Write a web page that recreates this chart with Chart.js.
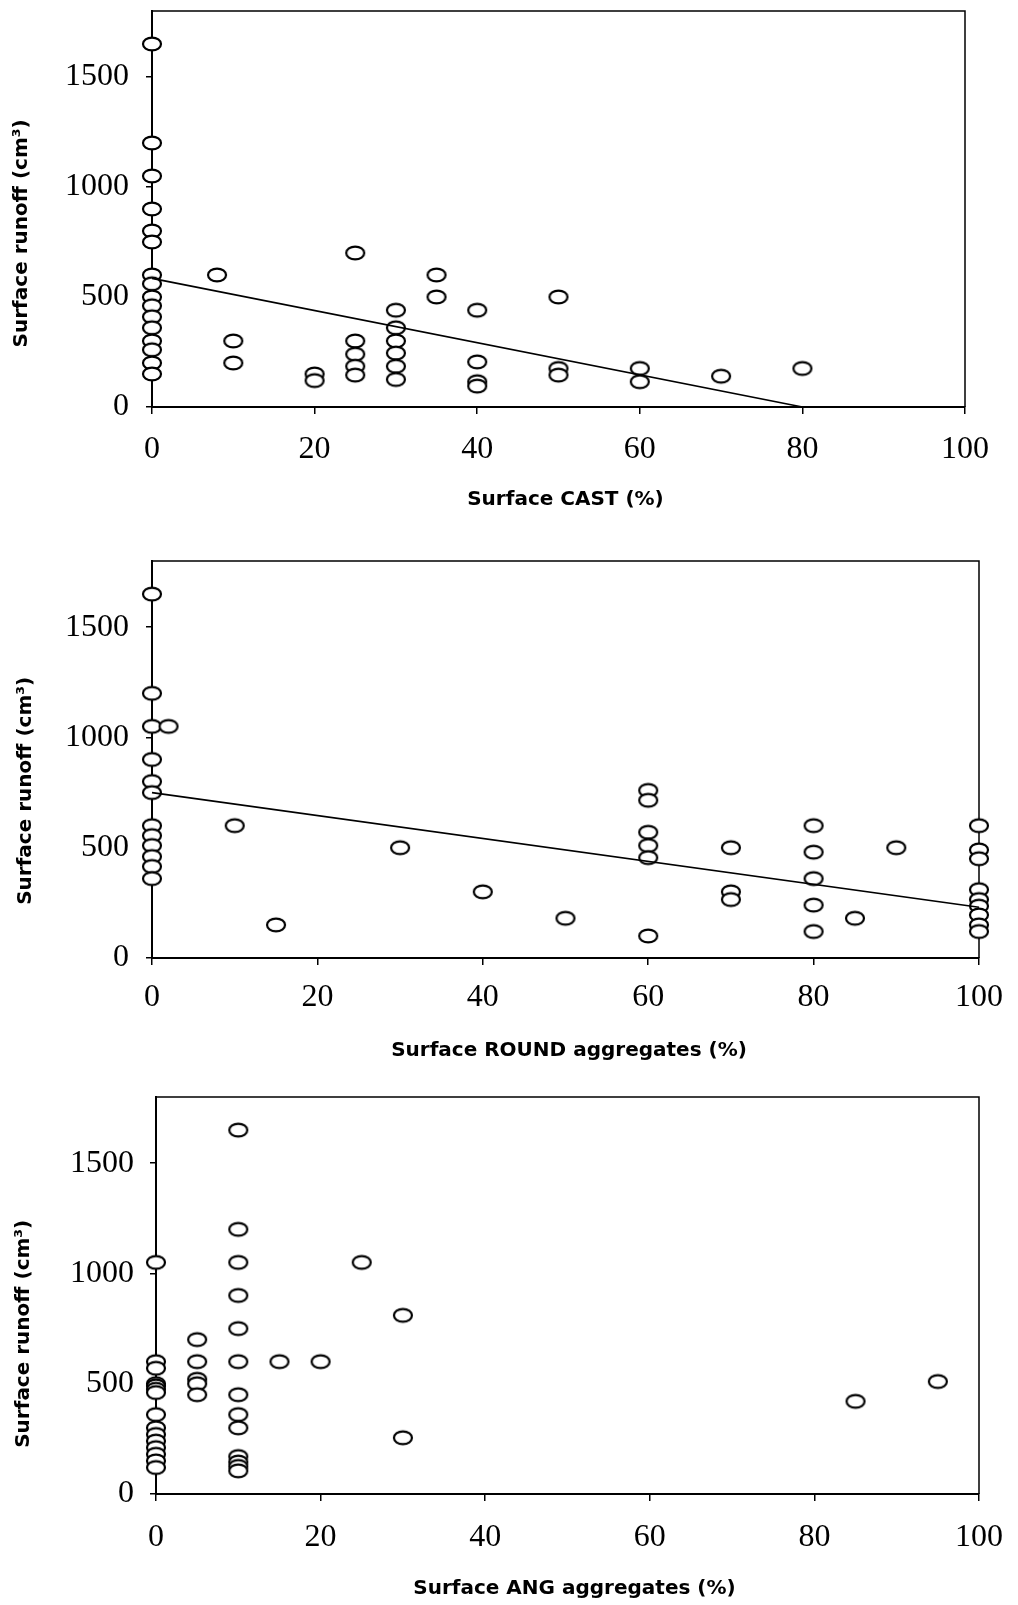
<!DOCTYPE html>
<html>
<head>
<meta charset="utf-8">
<script src="https://cdn.jsdelivr.net/npm/chart.js@4.4.1/dist/chart.umd.min.js"></script>
<style>
  body { margin: 0; background: #fff; }
  canvas { position: absolute; left: 0; }
</style>
</head>
<body>
<canvas id="cast" width="1018" height="525" style="top:0px"></canvas>
<canvas id="round" width="1018" height="535" style="top:530px"></canvas>
<canvas id="ang" width="1018" height="535" style="top:1070px"></canvas>
<script>
// tick values shared by all three panels
const xTicks = [0, 20, 40, 60, 80, 100];
const yTicks = [0, 500, 1000, 1500];

// Surface CAST (%) vs runoff
const castX = [0,0,0,0,0,0,0,0,0,0,0,0,0,0,0,0, 8, 10,10, 20,20, 25,25,25,25,25,
  30,30,30,30,30,30, 35,35, 40,40,40,40, 50,50,50, 60,60, 70, 80];
const castY = [1650,1200,1050,900,800,750,600,560,500,460,410,360,300,260,200,150, 600, 300,200, 150,120,
  700,300,240,185,145, 440,360,300,245,185,125, 600,500, 440,205,115,95, 500,175,145, 175,115, 140, 175];
const castTrendX = [0, 80];
const castTrendY = [585, 0];

// Surface ROUND aggregates (%) vs runoff
const roundX = [0,0,0,0,0,0,0,0,0,0,0,0, 2, 10, 15, 30, 40, 50, 60,60,60,60,60,60, 70,70,70,
  80,80,80,80,80, 85, 90, 100,100,100,100,100,100,100,100,100];
const roundY = [1650,1200,1050,900,800,750,600,555,510,460,415,360, 1050, 600, 150, 500, 300, 180,
  760,715,570,510,455,100, 500,300,265, 600,480,360,240,120, 180, 500,
  600,490,450,310,265,235,195,150,120];
const roundTrendX = [0, 100];
const roundTrendY = [750, 230];

// Surface ANG aggregates (%) vs runoff
const angX = [0,0,0,0,0,0,0,0,0,0,0,0,0,0,0, 5,5,5,5,5, 10,10,10,10,10,10,10,10,10,10,10,10,10,
  15, 20, 25, 30,30, 85, 95];
const angY = [1050,600,570,500,490,475,460,360,300,270,240,210,180,150,120, 700,600,520,500,450,
  1650,1200,1050,900,750,600,450,360,300,170,145,125,105, 600, 600, 1050, 810,255, 420, 510];

function ring() {
  const c = document.createElement('canvas');
  c.width = 24;
  c.height = 18;
  const g = c.getContext('2d');
  g.beginPath();
  g.ellipse(12, 9, 9, 6.4, 0, 0, Math.PI * 2);
  g.fillStyle = '#fff';
  g.fill();
  g.lineWidth = 2.2;
  g.strokeStyle = '#000';
  g.stroke();
  return c;
}
const marker = ring();

// top and right edges of the plot box
const frame = {
  id: 'frame',
  beforeDatasetsDraw(chart) {
    const { ctx, chartArea: a } = chart;
    ctx.save();
    ctx.strokeStyle = '#000';
    ctx.lineWidth = 1.5;
    ctx.beginPath();
    ctx.moveTo(a.left, a.top);
    ctx.lineTo(a.right, a.top);
    ctx.lineTo(a.right, a.bottom);
    ctx.stroke();
    ctx.restore();
  }
};

const tickFont = { family: "'Liberation Serif', 'Times New Roman', serif", size: 32 };
const titleFont = { family: "'DejaVu Sans', sans-serif", size: 20, weight: 'bold' };

function makeChart(id, xs, ys, trendX, trendY, xTitle, box) {
  const datasets = [{
    type: 'scatter',
    data: xs.map((x, i) => ({ x: x, y: ys[i] })),
    pointStyle: marker,
    pointRadius: 9,
    clip: false,
    order: 1
  }];
  if (trendX) {
    datasets.push({
      type: 'line',
      data: trendX.map((x, i) => ({ x: x, y: trendY[i] })),
      borderColor: '#000',
      borderWidth: 1.7,
      pointRadius: 0,
      fill: false,
      clip: false,
      order: 0
    });
  }
  return new Chart(document.getElementById(id), {
    type: 'scatter',
    data: { datasets },
    plugins: [frame],
    options: {
      responsive: false,
      animation: false,
      events: [],
      layout: { padding: { top: box.top, right: box.right, left: 0, bottom: 0 } },
      plugins: { legend: { display: false }, tooltip: { enabled: false } },
      scales: {
        x: {
          type: 'linear',
          min: 0,
          max: 100,
          afterBuildTicks: s => { s.ticks = xTicks.map(v => ({ value: v })); },
          afterFit: s => { s.height = box.xh; s.paddingLeft = 0; s.paddingRight = 0; },
          ticks: { font: tickFont, color: '#000', padding: box.xpad, maxRotation: 0, callback: v => String(v) },
          grid: { drawOnChartArea: false, drawTicks: true, tickLength: 7, color: '#000', lineWidth: 1.5 },
          border: { display: true, color: '#000', width: 2 },
          title: { display: true, text: xTitle, font: titleFont, color: '#000', padding: { top: 0, bottom: box.xtp } }
        },
        y: {
          type: 'linear',
          min: 0,
          max: 1800,
          afterBuildTicks: s => { s.ticks = yTicks.map(v => ({ value: v })); },
          afterFit: s => { s.width = box.left; s.paddingTop = 0; s.paddingBottom = 0; },
          ticks: { font: tickFont, color: '#000', padding: box.ypad, callback: v => String(v) },
          grid: { drawOnChartArea: false, drawTicks: true, tickLength: 6, color: '#000', lineWidth: 1.5 },
          border: { display: true, color: '#000', width: 2 },
          title: { display: true, text: 'Surface runoff (cm³)' + ' '.repeat(box.yshift), font: titleFont, color: '#000', padding: { top: box.ytp, bottom: 0 } }
        }
      }
    }
  });
}

makeChart('cast', castX, castY, castTrendX, castTrendY, '  Surface CAST (%)',
  { left: 152, right: 53, top: 11, xh: 118, xpad: 16, xtp: 13, ypad: 17, ytp: 10, yshift: 7 });
makeChart('round', roundX, roundY, roundTrendX, roundTrendY, ' Surface ROUND aggregates (%)',
  { left: 152, right: 39, top: 31, xh: 107, xpad: 13, xtp: 2, ypad: 17, ytp: 14, yshift: 9 });
makeChart('ang', angX, angY, null, null, '  Surface ANG aggregates (%)',
  { left: 156, right: 39, top: 27, xh: 111, xpad: 17, xtp: 4, ypad: 16, ytp: 12, yshift: 11 });
</script>
</body>
</html>
